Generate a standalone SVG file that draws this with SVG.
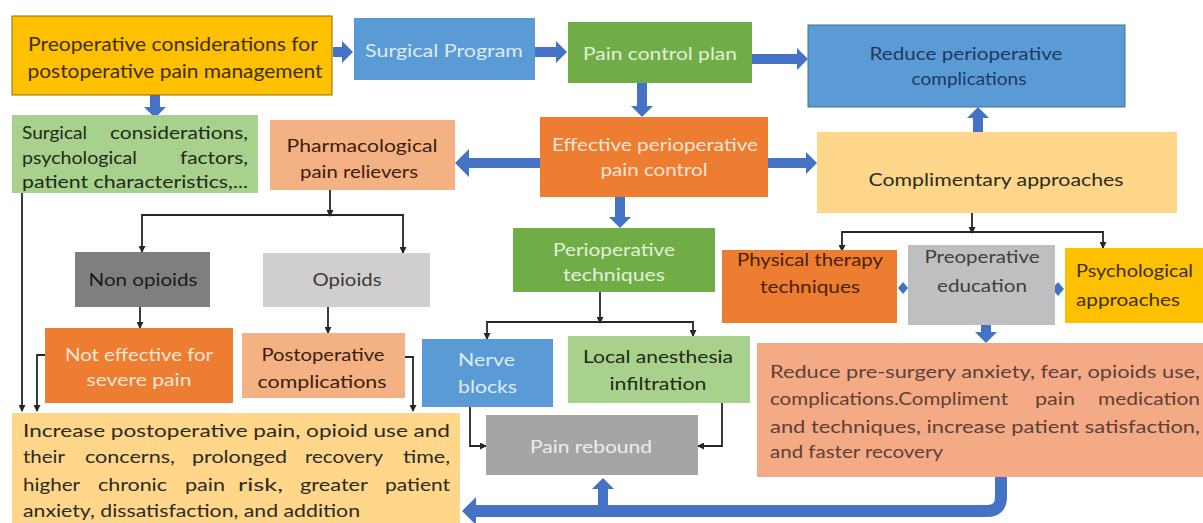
<svg xmlns="http://www.w3.org/2000/svg" width="1203" height="523" viewBox="0 0 1203 523">
<defs>
<style>
.t{font-family:Lato,"Open Sans","Liberation Sans",sans-serif;font-size:18px;}
.big{font-size:19px;}
.thick{fill:none;stroke:#4472C4;stroke-width:10;}
.thin{fill:none;stroke:#262626;stroke-width:1.8;}
</style>
<marker id="ha" markerUnits="userSpaceOnUse" viewBox="0 0 11 22" markerWidth="11" markerHeight="22" refX="0" refY="11" orient="auto"><path d="M0,0 L11,11 L0,22 z" fill="#4472C4"/></marker>
<marker id="hb" markerUnits="userSpaceOnUse" viewBox="0 0 14 28" markerWidth="14" markerHeight="28" refX="0" refY="14" orient="auto"><path d="M0,0 L14,14 L0,28 z" fill="#4472C4"/></marker>
<marker id="sa" markerUnits="userSpaceOnUse" viewBox="0 0 7 7" markerWidth="7" markerHeight="7" refX="6" refY="3.5" orient="auto"><path d="M0,0 L7,3.5 L0,7 z" fill="#262626"/></marker>
</defs>
<rect width="1203" height="523" fill="#FFFFFF"/>

<g id="connectors">
<line class="thick" x1="333" y1="52" x2="342" y2="52" marker-end="url(#ha)"/>
<line class="thick" x1="535" y1="52" x2="556" y2="52" marker-end="url(#ha)"/>
<line class="thick" x1="752" y1="59" x2="797" y2="59" marker-end="url(#ha)"/>
<line class="thick" x1="642" y1="83" x2="642" y2="106" marker-end="url(#ha)"/>
<line class="thick" x1="155" y1="95" x2="155" y2="107" marker-end="url(#ha)"/>
<line class="thick" x1="540" y1="163" x2="469" y2="163" marker-end="url(#hb)"/>
<line class="thick" x1="768" y1="163" x2="806" y2="163" marker-end="url(#ha)"/>
<line class="thick" x1="978" y1="132" x2="978" y2="118" marker-end="url(#ha)"/>
<line class="thick" x1="620" y1="197" x2="620" y2="217" marker-end="url(#ha)"/>
<line class="thick" x1="986" y1="325" x2="986" y2="332" marker-end="url(#ha)"/>
<path class="thick" style="stroke-width:12" d="M1001,475 V497 Q1001,511 987,511 H476" marker-end="url(#hb)"/>
<line class="thick" x1="603" y1="511" x2="603" y2="489" marker-end="url(#ha)"/>

<path class="thin" d="M22,193 V411" marker-end="url(#sa)"/>
<path class="thin" d="M45,355 H37 V411" marker-end="url(#sa)"/>
<path class="thin" d="M330,190 V216" marker-end="url(#sa)"/>
<path class="thin" d="M330,215 H142 V252" marker-end="url(#sa)"/>
<path class="thin" d="M330,215 H403 V253" marker-end="url(#sa)"/>
<path class="thin" d="M140,307 V328" marker-end="url(#sa)"/>
<path class="thin" d="M328,307 V333" marker-end="url(#sa)"/>
<path class="thin" d="M405,357 H413 V411" marker-end="url(#sa)"/>
<path class="thin" d="M600,292 V323" marker-end="url(#sa)"/>
<path class="thin" d="M600,322 H487 V339" marker-end="url(#sa)"/>
<path class="thin" d="M600,322 H693 V336" marker-end="url(#sa)"/>
<path class="thin" d="M470,407 V446 H486" marker-end="url(#sa)"/>
<path class="thin" d="M722,403 V446 H698" marker-end="url(#sa)"/>
<path class="thin" d="M972,213 V233" marker-end="url(#sa)"/>
<path class="thin" d="M972,232 H842 V251" marker-end="url(#sa)"/>
<path class="thin" d="M972,232 H1103 V248" marker-end="url(#sa)"/>
<path d="M903,282 L908,288 L903,294 L898,288 z" fill="#4472C4"/>
<path d="M1058,282 L1064,289 L1058,296 L1052,289 z" fill="#4472C4"/>
</g>

<g id="preop-considerations">
<rect x="12" y="16" width="320" height="79" fill="#FFC000" stroke="#8C6D00" stroke-width="1"/>
<text class="t big" x="173" y="51" text-anchor="middle" fill="#3D2F00" textLength="290" lengthAdjust="spacingAndGlyphs">Preoperative considerations for</text>
<text class="t big" x="175" y="78" text-anchor="middle" fill="#3D2F00" textLength="295" lengthAdjust="spacingAndGlyphs">postoperative pain management</text>
</g>

<g id="surgical-program">
<rect x="354" y="18" width="181" height="62" fill="#5B9BD5"/>
<text class="t" x="365" y="57" fill="#DDEBF7" textLength="158" lengthAdjust="spacingAndGlyphs">Surgical  Program</text>
</g>

<g id="pain-control-plan">
<rect x="568" y="22" width="184" height="61" fill="#70AD47"/>
<text class="t" x="660" y="60" text-anchor="middle" fill="#E2F0D9" textLength="154" lengthAdjust="spacingAndGlyphs">Pain control plan</text>
</g>

<g id="reduce-periop-complications">
<rect x="808" y="25" width="317" height="82" fill="#5B9BD5" stroke="#41719C" stroke-width="1"/>
<text class="t" x="966" y="60" text-anchor="middle" fill="#203864" textLength="193" lengthAdjust="spacingAndGlyphs">Reduce perioperative</text>
<text class="t" x="969" y="85" text-anchor="middle" fill="#203864" textLength="115" lengthAdjust="spacingAndGlyphs">complications</text>
</g>

<g id="surgical-considerations">
<rect x="12" y="115" width="246" height="78" fill="#A9D18E"/>
<text class="t" x="22" y="139" fill="#1E2B16" textLength="65" lengthAdjust="spacingAndGlyphs">Surgical</text>
<text class="t" x="110" y="139" fill="#1E2B16" textLength="138" lengthAdjust="spacingAndGlyphs">considerations,</text>
<text class="t" x="22" y="164" fill="#1E2B16" textLength="115" lengthAdjust="spacingAndGlyphs">psychological</text>
<text class="t" x="180" y="164" fill="#1E2B16" textLength="68" lengthAdjust="spacingAndGlyphs">factors,</text>
<text class="t" x="22" y="188" fill="#1E2B16" textLength="226" lengthAdjust="spacingAndGlyphs">patient characteristics,...</text>
</g>

<g id="pharmacological">
<rect x="270" y="120" width="185" height="70" fill="#F4B183"/>
<text class="t" x="362" y="152" text-anchor="middle" fill="#3A1E10" textLength="151" lengthAdjust="spacingAndGlyphs">Pharmacological</text>
<text class="t" x="359" y="178" text-anchor="middle" fill="#3A1E10" textLength="118" lengthAdjust="spacingAndGlyphs">pain relievers</text>
</g>

<g id="effective-pain-control">
<rect x="540" y="117" width="228" height="80" fill="#ED7D31"/>
<text class="t" x="655" y="151" text-anchor="middle" fill="#FCE4D6" textLength="206" lengthAdjust="spacingAndGlyphs">Effective perioperative</text>
<text class="t" x="654" y="176" text-anchor="middle" fill="#FCE4D6" textLength="107" lengthAdjust="spacingAndGlyphs">pain control</text>
</g>

<g id="complimentary-approaches">
<rect x="817" y="132" width="360" height="81" fill="#FFD68A"/>
<text class="t" x="996" y="186" text-anchor="middle" fill="#2B2B1F" textLength="255" lengthAdjust="spacingAndGlyphs">Complimentary approaches</text>
</g>

<g id="non-opioids">
<rect x="75" y="252" width="135" height="55" fill="#7F7F7F"/>
<text class="t" x="143" y="286" text-anchor="middle" fill="#1A1A1A" textLength="109" lengthAdjust="spacingAndGlyphs">Non opioids</text>
</g>

<g id="opioids">
<rect x="263" y="253" width="167" height="54" fill="#D0CECE"/>
<text class="t" x="347" y="286" text-anchor="middle" fill="#3A3A3A" textLength="69" lengthAdjust="spacingAndGlyphs">Opioids</text>
</g>

<g id="not-effective">
<rect x="45" y="328" width="188" height="75" fill="#ED7D31"/>
<text class="t" x="139" y="361" text-anchor="middle" fill="#FCE4D6" textLength="148" lengthAdjust="spacingAndGlyphs">Not effective for</text>
<text class="t" x="139" y="386" text-anchor="middle" fill="#FCE4D6" textLength="105" lengthAdjust="spacingAndGlyphs">severe pain</text>
</g>

<g id="postoperative-complications">
<rect x="242" y="333" width="163" height="65" fill="#F4B183"/>
<text class="t" x="323" y="361" text-anchor="middle" fill="#3A1E10" textLength="123" lengthAdjust="spacingAndGlyphs">Postoperative</text>
<text class="t" x="322" y="388" text-anchor="middle" fill="#3A1E10" textLength="129" lengthAdjust="spacingAndGlyphs">complications</text>
</g>

<g id="perioperative-techniques">
<rect x="513" y="228" width="202" height="64" fill="#70AD47"/>
<text class="t" x="614" y="256" text-anchor="middle" fill="#E2F0D9" textLength="122" lengthAdjust="spacingAndGlyphs">Perioperative</text>
<text class="t" x="614" y="281" text-anchor="middle" fill="#E2F0D9" textLength="102" lengthAdjust="spacingAndGlyphs">techniques</text>
</g>

<g id="nerve-blocks">
<rect x="422" y="339" width="131" height="68" fill="#5B9BD5"/>
<text class="t" x="458" y="366" fill="#DDEBF7" textLength="57" lengthAdjust="spacingAndGlyphs">Nerve</text>
<text class="t" x="458" y="393" fill="#DDEBF7" textLength="59" lengthAdjust="spacingAndGlyphs">blocks</text>
</g>

<g id="local-anesthesia">
<rect x="568" y="336" width="182" height="67" fill="#A9D18E"/>
<text class="t" x="658" y="363" text-anchor="middle" fill="#1E2B16" textLength="150" lengthAdjust="spacingAndGlyphs">Local anesthesia</text>
<text class="t" x="658" y="390" text-anchor="middle" fill="#1E2B16" textLength="97" lengthAdjust="spacingAndGlyphs">infiltration</text>
</g>

<g id="pain-rebound">
<rect x="486" y="415" width="212" height="60" fill="#A5A5A5"/>
<text class="t" x="591" y="453" text-anchor="middle" fill="#EDEDED" textLength="122" lengthAdjust="spacingAndGlyphs">Pain rebound</text>
</g>

<g id="physical-therapy">
<rect x="722" y="250" width="175" height="73" fill="#ED7D31"/>
<text class="t" x="810" y="266" text-anchor="middle" fill="#4A2200" textLength="146" lengthAdjust="spacingAndGlyphs">Physical therapy</text>
<text class="t" x="810" y="293" text-anchor="middle" fill="#4A2200" textLength="100" lengthAdjust="spacingAndGlyphs">techniques</text>
</g>

<g id="preoperative-education">
<rect x="908" y="245" width="147" height="80" fill="#BFBFBF"/>
<text class="t" x="982" y="263" text-anchor="middle" fill="#404040" textLength="115" lengthAdjust="spacingAndGlyphs">Preoperative</text>
<text class="t" x="982" y="292" text-anchor="middle" fill="#404040" textLength="90" lengthAdjust="spacingAndGlyphs">education</text>
</g>

<g id="psychological-approaches">
<rect x="1065" y="248" width="138" height="75" fill="#FFC000"/>
<text class="t" x="1076" y="277" fill="#403000" textLength="117" lengthAdjust="spacingAndGlyphs">Psychological</text>
<text class="t" x="1076" y="306" fill="#403000" textLength="104" lengthAdjust="spacingAndGlyphs">approaches</text>
</g>

<g id="reduce-presurgery">
<rect x="757" y="343" width="446" height="134" fill="#F4AA85"/>
<text class="t" x="770" y="378" fill="#5E4038" textLength="430" lengthAdjust="spacingAndGlyphs">Reduce pre-surgery anxiety, fear, opioids use,</text>
<text class="t" x="770" y="405" fill="#5E4038" textLength="238" lengthAdjust="spacingAndGlyphs">complications.Compliment</text>
<text class="t" x="1035" y="405" fill="#5E4038" textLength="40" lengthAdjust="spacingAndGlyphs">pain</text>
<text class="t" x="1098" y="405" fill="#5E4038" textLength="102" lengthAdjust="spacingAndGlyphs">medication</text>
<text class="t" x="770" y="433" fill="#5E4038" textLength="430" lengthAdjust="spacingAndGlyphs">and techniques, increase patient satisfaction,</text>
<text class="t" x="770" y="458" fill="#5E4038" textLength="173" lengthAdjust="spacingAndGlyphs">and faster recovery</text>
</g>

<g id="increase-outcomes">
<rect x="12" y="413" width="448" height="110" fill="#FFD68A"/>
<text class="t" x="23" y="437" fill="#2B2B1F" textLength="427" lengthAdjust="spacingAndGlyphs">Increase postoperative pain, opioid use and</text>
<text class="t" x="23" y="463" fill="#2B2B1F" textLength="42" lengthAdjust="spacingAndGlyphs">their</text>
<text class="t" x="85" y="463" fill="#2B2B1F" textLength="90" lengthAdjust="spacingAndGlyphs">concerns,</text>
<text class="t" x="192" y="463" fill="#2B2B1F" textLength="95" lengthAdjust="spacingAndGlyphs">prolonged</text>
<text class="t" x="305" y="463" fill="#2B2B1F" textLength="78" lengthAdjust="spacingAndGlyphs">recovery</text>
<text class="t" x="403" y="463" fill="#2B2B1F" textLength="47" lengthAdjust="spacingAndGlyphs">time,</text>
<text class="t" x="23" y="491" fill="#2B2B1F" textLength="57" lengthAdjust="spacingAndGlyphs">higher</text>
<text class="t" x="98" y="491" fill="#2B2B1F" textLength="69" lengthAdjust="spacingAndGlyphs">chronic</text>
<text class="t" x="185" y="491" fill="#2B2B1F" textLength="40" lengthAdjust="spacingAndGlyphs">pain</text>
<text class="t" x="238" y="491" fill="#2B2B1F" textLength="45" lengthAdjust="spacingAndGlyphs">risk,</text>
<text class="t" x="300" y="491" fill="#2B2B1F" textLength="68" lengthAdjust="spacingAndGlyphs">greater</text>
<text class="t" x="385" y="491" fill="#2B2B1F" textLength="65" lengthAdjust="spacingAndGlyphs">patient</text>
<text class="t" x="23" y="517" fill="#2B2B1F" textLength="337" lengthAdjust="spacingAndGlyphs">anxiety, dissatisfaction, and  addition</text>
</g>
</svg>
